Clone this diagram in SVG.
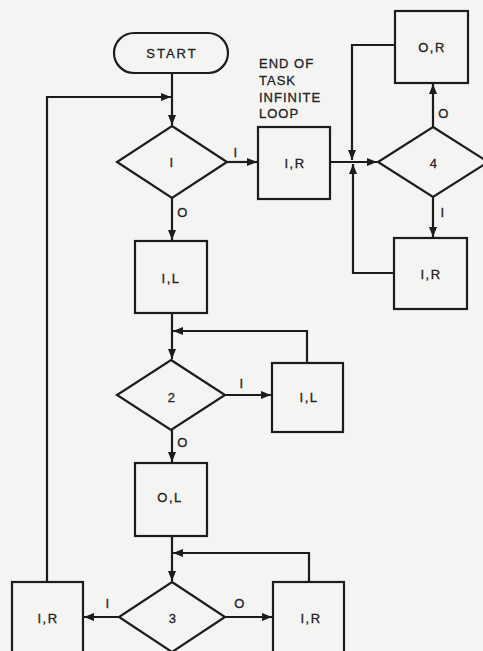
<svg xmlns="http://www.w3.org/2000/svg" width="483" height="651" viewBox="0 0 483 651">
<style>
.shape{fill:none;stroke:#1c1c1c;stroke-width:2.2;stroke-linejoin:miter}
.conn{fill:none;stroke:#1c1c1c;stroke-width:2.2}
.lbl{font-family:"Liberation Sans",Arial,sans-serif;font-size:13px;fill:#222;text-anchor:middle;dominant-baseline:central;letter-spacing:1.5px;stroke:#222;stroke-width:0.3}
.note{font-family:"Liberation Sans",Arial,sans-serif;font-size:13px;fill:#222;letter-spacing:1px;stroke:#222;stroke-width:0.3}
</style>
<defs>
<marker id="arr" markerUnits="userSpaceOnUse" markerWidth="10" markerHeight="8" refX="10" refY="4" orient="auto">
<path d="M0,0 L10,4 L0,8 z" fill="#1c1c1c"/>
</marker>
</defs>
<rect x="0" y="0" width="483" height="651" fill="#f4f4f2"/>

<g id="connectors">
<path class="conn" d="M172,73 V125" marker-end="url(#arr)"/>
<path class="conn" d="M47,582 V97 H171" marker-end="url(#arr)"/>
<path class="conn" d="M227,162 H257" marker-end="url(#arr)"/>
<path class="conn" d="M172,198 V240" marker-end="url(#arr)"/>
<path class="conn" d="M330,162 H377" marker-end="url(#arr)"/>
<path class="conn" d="M395,45 H352 V160" marker-end="url(#arr)"/>
<path class="conn" d="M394,273 H353 V164" marker-end="url(#arr)"/>
<path class="conn" d="M433,127 V84" marker-end="url(#arr)"/>
<path class="conn" d="M433,197 V237" marker-end="url(#arr)"/>
<path class="conn" d="M172,313 V359" marker-end="url(#arr)"/>
<path class="conn" d="M307,363 V331 H173" marker-end="url(#arr)"/>
<path class="conn" d="M225,395 H271" marker-end="url(#arr)"/>
<path class="conn" d="M172,430 V462" marker-end="url(#arr)"/>
<path class="conn" d="M172,536 V581" marker-end="url(#arr)"/>
<path class="conn" d="M309,582 V553 H173" marker-end="url(#arr)"/>
<path class="conn" d="M119,617 H84" marker-end="url(#arr)"/>
<path class="conn" d="M225,617 H272" marker-end="url(#arr)"/>
<text class="lbl" x="236" y="152">I</text>
<text class="lbl" x="183" y="212">O</text>
<text class="lbl" x="444" y="113">O</text>
<text class="lbl" x="443" y="212">I</text>
<text class="lbl" x="242" y="383">I</text>
<text class="lbl" x="183" y="442">O</text>
<text class="lbl" x="108" y="603">I</text>
<text class="lbl" x="240" y="603">O</text>
</g>

<g id="start">
<rect class="shape" x="114" y="33" width="114" height="40" rx="20" ry="20"/>
<text class="lbl" x="172" y="53" style="letter-spacing:2px">START</text>
</g>
<g id="decision1">
<polygon class="shape" points="172,126 227,162 172,198 117,162"/>
<text class="lbl" x="172" y="162">I</text>
</g>
<g id="box-1R-top">
<rect class="shape" x="258" y="127" width="72" height="72"/>
<text class="lbl" x="295" y="163">I,R</text>
</g>
<g id="note-end">
<text class="note" x="259" y="68">END OF</text>
<text class="note" x="259" y="85">TASK</text>
<text class="note" x="259" y="102">INFINITE</text>
<text class="note" x="259" y="118">LOOP</text>
</g>
<g id="decision4">
<polygon class="shape" points="433,127 488,162 433,197 378,162"/>
<text class="lbl" x="434" y="163">4</text>
</g>
<g id="box-0R">
<rect class="shape" x="395" y="11" width="73" height="72"/>
<text class="lbl" x="432" y="47">O,R</text>
</g>
<g id="box-1R-right">
<rect class="shape" x="394" y="238" width="73" height="71"/>
<text class="lbl" x="431" y="274">I,R</text>
</g>
<g id="box-1L">
<rect class="shape" x="135" y="241" width="72" height="72"/>
<text class="lbl" x="171" y="278">I,L</text>
</g>
<g id="decision2">
<polygon class="shape" points="171,360 225,395 171,430 117,395"/>
<text class="lbl" x="172" y="397">2</text>
</g>
<g id="box-1L-loop">
<rect class="shape" x="272" y="363" width="71" height="69"/>
<text class="lbl" x="309" y="397">I,L</text>
</g>
<g id="box-0L">
<rect class="shape" x="135" y="463" width="72" height="73"/>
<text class="lbl" x="170" y="497">O,L</text>
</g>
<g id="decision3">
<polygon class="shape" points="172,582 225,617 172,652 119,617"/>
<text class="lbl" x="173" y="618">3</text>
</g>
<g id="box-1R-bottom-left">
<rect class="shape" x="12" y="582" width="71" height="80"/>
<text class="lbl" x="48" y="618">I,R</text>
</g>
<g id="box-1R-bottom-right">
<rect class="shape" x="273" y="582" width="71" height="80"/>
<text class="lbl" x="311" y="618">I,R</text>
</g>
</svg>
